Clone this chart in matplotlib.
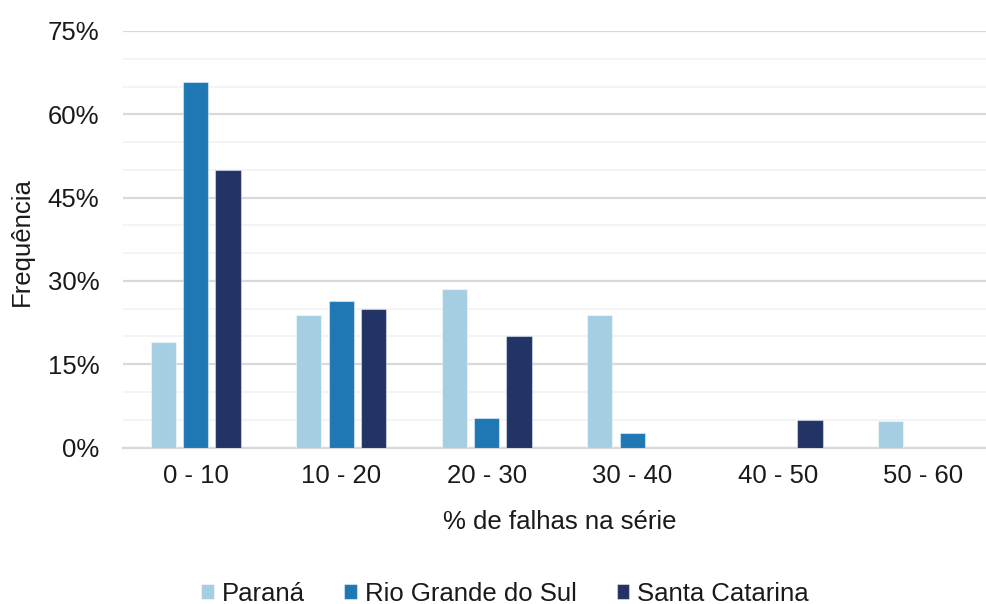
import matplotlib
matplotlib.use("Agg")
import matplotlib.pyplot as plt
import numpy as np
from matplotlib.ticker import MultipleLocator, FuncFormatter

plt.rcParams['font.family'] = ['Liberation Sans', 'DejaVu Sans']

categories = ["0 - 10", "10 - 20", "20 - 30", "30 - 40", "40 - 50", "50 - 60"]
parana = [19.05, 23.81, 28.57, 23.81, 0.0, 4.76]
rio_grande_do_sul = [65.79, 26.32, 5.26, 2.63, 0.0, 0.0]
santa_catarina = [50.0, 25.0, 20.0, 0.0, 5.0, 0.0]
series_names = ["Paraná", "Rio Grande do Sul", "Santa Catarina"]
colors = ["#a6cee3", "#1f78b4", "#223366"]

fig = plt.figure(figsize=(9.86, 6.04), dpi=100)
ax = fig.add_axes([0.1247, 0.2591, 0.8854, 0.6896])

x = np.arange(len(categories))
bar_w = 0.172
step = 0.222
for i, (vals, name, c) in enumerate(zip([parana, rio_grande_do_sul, santa_catarina], series_names, colors)):
    ax.bar(x + (i - 1) * step, vals, width=bar_w, color=c, label=name,
           edgecolor=(1, 1, 1, 0.45), linewidth=0.8, zorder=3)

ax.set_xlim(-0.5, len(categories) - 0.5)
ax.set_ylim(0, 75)
ax.yaxis.set_major_locator(MultipleLocator(15))
ax.yaxis.set_minor_locator(MultipleLocator(5))
ax.yaxis.set_major_formatter(FuncFormatter(lambda v, p: f"{v:.0f}%"))
ax.grid(axis='y', which='minor', color='#f2f2f2', linewidth=1.2, zorder=0)
ax.grid(axis='y', which='major', color='#d9d9d9', linewidth=1.6, zorder=1)
ax.set_xticks(x)
ax.set_xticklabels(categories)
ax.tick_params(axis='both', which='both', length=0, labelsize=18.5, colors='#1a1a1a')
ax.tick_params(axis='x', pad=12)
ax.tick_params(axis='y', pad=17)
for s in ['top', 'right', 'left']:
    ax.spines[s].set_visible(False)
ax.spines['bottom'].set_color('#d9d9d9')
ax.spines['bottom'].set_linewidth(1.6)

ax.set_xlabel("% de falhas na série", fontsize=18.5, color='#1a1a1a', labelpad=16)
fig.text(0.022, 0.6, "Frequência", rotation=90, fontsize=18.5, color='#1a1a1a',
         ha='center', va='center')

fig.legend(loc='center', bbox_to_anchor=(0.512, 0.017), ncol=3, frameon=False,
           fontsize=18.5, handlelength=0.5, handleheight=0.5, handletextpad=0.3,
           columnspacing=1.55, labelcolor='#1a1a1a')

fig.savefig("out.png", dpi=100, facecolor='white')
